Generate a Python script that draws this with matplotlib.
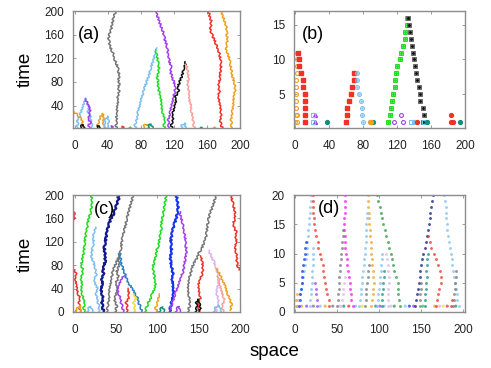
import matplotlib
matplotlib.use("Agg")
import matplotlib.pyplot as plt

plt.rcParams['font.family'] = ['Liberation Sans', 'DejaVu Sans']

# ---------------- colours ----------------
GRAY = '#767676'; PURPLE = '#a23ef0'; SKY = '#7cc0f0'; GREEN = '#1fdc1f'
BLACK = '#111111'; SALMON = '#f8a29a'; RED = '#ee3228'; ORANGE = '#f0a020'
NAVY = '#121a8a'; BLUE = '#1434f0'; STEEL = '#2a82c2'; PLUM = '#dcb4f0'
YELLOW = '#f0dc3c'; TEAL = '#10907c'; MAGENTA = '#ff10ff'; DGREEN = '#2a9a40'

# ---------------- panel (a) ----------------
a_gray_y = [0,7,14,21,28,35,42,49,56,63,70,77,84,91,98,105,112,119,126,133,140,147,154,161,168,175,182,189,196,200]
a_gray_x = [51,50,51,50,52,51,52,53,52,54,53,54,53,54,53,52,50,48,47,45,43,42,41,42,44,45,46,47,49,49]
a_purple_y = [0,8,16,24,32,40,48,56,64,72,80,88,96,104,112,120,128,136,144,152,160,168,176,184,192,200]
a_purple_x = [113,114,113,115,116,117,119,120,121,122,120,118,116,117,115,114,113,112,111,109,108,106,104,102,100,99]
a_sky_y = [0,8,16,24,32,40,48,56,64,72,80,88,96,104,112,120,128,134,137]
a_sky_x = [74,73,75,76,77,79,80,82,83,85,87,89,91,92,94,96,97,99,100]
a_green_y = [0,8,16,24,32,40,48,56,64,72,80,88,96,104,112,120,128,134]
a_green_x = [109,108,109,107,106,105,105,104,102,101,101,100,101,102,101,100,99,98]
a_black_y = [0,8,16,24,32,40,48,56,64,72,80,88,96,104,110,114]
a_black_x = [118,117,119,118,120,121,123,122,126,125,127,129,131,132,134,134]
a_salmon_y = [0,8,16,24,32,40,48,56,64,72,80,88,96,104,110]
a_salmon_x = [145,144,143,142,141,141,139,139,138,137,137,138,137,136,135]
a_red_y = [0,8,16,24,32,40,48,56,64,72,80,88,96,104,112,120,128,136,144,152,160,168,176,184,192,200]
a_red_x = [179,177,176,177,177,176,175,174,175,174,175,176,176,177,177,176,175,173,171,169,166,164,165,165,163,162]
a_orange_y = [0,8,16,24,32,40,48,56,64,72,80,88,96,104,112,120,128,136,144,152,160,168,176,184,192,200]
a_orange_x = [189,190,189,190,191,192,192,193,194,194,193,191,190,189,188,187,185,183,184,185,184,184,183,181,179,177]
a_sky2_y = [0,8,15,22,30,38,46,52,45,38,30,22,12,0]
a_sky2_x = [2,4,3,6,8,10,12,14,15,17,16,19,20,22]
a_purple2_y = [0,6,12,18,25,32,40,46,51]
a_purple2_x = [18,17,19,16,18,19,17,15,13]
a_orange2_y = [30,26,22,18,12,6,0]
a_orange2_x = [-1,2,5,8,10,9,11]
a_orange3_y = [0,8,16,22,26,18,10,4,0]
a_orange3_x = [29,28,30,31,34,35,34,36,38]
a_sky3_y = [0,6,12,18,22,14,6,0]
a_sky3_x = [35,37,36,38,40,41,40,42]
a_black2_y = [0,5,8,4,0]
a_black2_x = [6,8,10,12,11]
a_black3_y = [0,5,3,0]
a_black3_x = [26,28,31,32]
a_orange4_y = [0,6,9,5,0]
a_orange4_x = [83,84,87,89,90]
a_teal_y = [0,6,9,4,0]
a_teal_x = [88,90,92,94,96]
a_sky4_y = [0,7,11,6,0]
a_sky4_x = [129,130,133,134,135]
a_red2_y = [0,4,0]
a_red2_x = [55,58,60]
a_green2_y = [0,4,0]
a_green2_x = [64,66,68]
a_purple3_y = [0,5,0]
a_purple3_x = [43,45,47]
a_teal2_y = [0,4,0]
a_teal2_x = [150,152,154]
a_orange5_y = [0,4,0]
a_orange5_x = [166,168,170]

# ---------------- panel (b) ----------------
b_orange_x = [0,2,1,3,1,1,1,1,1,2,3,3,3]
b_orange_y = [1,1,2,2,3,4,5,6,7,8,9,10,11]
b_red1_x = [12,12,12,12,12,9.5,9.5,6.7,5.2,5.2,4]
b_red1_y = [1,2,3,4,5,6,7,8,9,10,11]
b_red2_x = [60.5,61.7,61.7,63.3,65.7,67.7,69.3,69.3]
b_red2_y = [1,2,3,4,5,6,7,8]
b_sky_x = [80.5,79.3,79.3,77.7,75.3,73.4,73.4,72.6]
b_sky_y = [1,2,3,4,5,6,7,8]
b_green_x = [109.6,111.5,112.7,114.3,115.4,117.4,118.2,119.4,120.6,123.3,125.3,127.3,129.3,130,131.9,131.9]
b_green_y = [1,2,3,4,5,6,7,8,9,10,11,12,13,14,15,16]
b_black_x = [150.6,151.8,150.6,147.5,146.7,145.5,143.9,142.7,140.8,139.6,138.8,137.6,136,135.3,133.8,133]
b_black_y = [1,2,3,4,5,6,7,8,9,10,11,12,13,14,15,16]
b_purple_tri_x = [24,24]
b_purple_tri_y = [1,2]
b_purple_x = [117,125,127]
b_purple_y = [1,2,1]
b_sky2_x = [21,21,137,140,142,152]
b_sky2_y = [1,2,1,1,1,1]
b_teal_x = [38,92,155,194]
b_teal_y = [1,1,1,1]
b_red3_x = [144,183,186,184]
b_red3_y = [1,1,1,2]
b_orange2_x = [88,90]
b_orange2_y = [1,1]

# ---------------- panel (c) ----------------
c_green1_y = [0,8,16,24,32,40,48,56,64,72,80,88,96,104,112,120,128,136,144,152,160,168,176,184,192,200]
c_green1_x = [12,11,12,10,9,8,9,8,9,10,8,9,10,11,12,12,13,14,15,16,17,19,20,21,21,20]
c_sky1_y = [0,8,16,24,32,40,48,56,64,72,80,88,96,104,112,120,128,136,145]
c_sky1_x = [29,30,28,27,26,28,25,24,26,25,24,22,20,21,22,23,22,24,25]
c_navy_y = [0,8,16,24,32,40,48,56,64,72,80,88,96,104,112,120,128,136,144,152,160,168,176,184,192,200]
c_navy_x = [35,34,33,34,33,32,34,33,35,34,36,37,37,36,36,37,38,39,40,42,44,47,49,51,53,54]
c_gray1_y = [0,10,20,30,40,50,60,70,80,90,100,110,120,130,140,150,160,170,180,190,200]
c_gray1_x = [39,40,41,42,42,44,45,46,49,52,55,56,57,58,60,62,63,65,67,69,71]
c_gray2_y = [0,10,20,30,40,50,60,70,80,90,96]
c_gray2_x = [49,51,48,50,52,50,53,51,54,53,55]
c_steel_y = [0,8,16,24,32,40,48,56,64,72,80,88,96,100]
c_steel_x = [81,80,77,76,73,70,66,63,61,59,57,56,55,54]
c_purple1_y = [0,8,16,24,32,40,48,56,63]
c_purple1_x = [59,58,56,55,53,52,54,57,60]
c_green2_y = [0,8,16,24,32,40,48,56,64,72,80,88,96,104,112,120,128,136,144,152,160,168,176,184,192,200]
c_green2_x = [85,87,89,92,94,97,98,97,96,95,95,97,98,99,101,102,103,104,105,105,106,107,108,109,110,111]
c_blue_y = [0,8,16,24,32,40,48,56,64,72,80,88,96,104,112,120,128,136,144,152,160,168,176,184,192,200]
c_blue_x = [115,116,117,118,120,119,119,118,119,118,117,116,116,117,117,116,117,118,119,121,123,124,125,125,124,123]
c_purple2_y = [3,12,20,28,36,44,52,60,68,76,84,92,100,108,116,124,132,140,148,156,164,171]
c_purple2_x = [115,117,119,121,123,125,127,129,131,132,133,134,135,135,134,134,133,132,131,130,128,127]
c_gray3_y = [0,10,20,30,40,50,60,70,80,90,100,110,120,130,140,150,160,170,180,190,200]
c_gray3_x = [137,139,139,138,137,138,139,141,143,147,150,154,157,159,160,161,162,164,167,169,172]
c_red1_y = [72,80,88,96,104,112,120,128,136,144,152,160,168,176,184,192,200]
c_red1_x = [199,197,196,196,195,194,196,195,196,193,192,194,194,193,192,190,190]
c_plum_y = [0,8,16,24,32,40,48,56,64,72,80,88,96,105]
c_plum_x = [171,172,174,173,172,172,174,174,173,172,170,168,165,162]
c_red2_y = [0,8,16,24,32,40,48,56,64,72,80,88,96]
c_red2_x = [151,150,149,152,151,150,150,152,154,155,155,154,153]
c_orange1_y = [3,12,23,35,46,57,74]
c_orange1_x = [188,190,187,184,182,178,172]
c_red3_y = [0,10,20,30,40,50,60]
c_red3_x = [180,178,181,179,177,175,174]
c_red4_y = [0,8,16,24,32,40,48,56,64,72]
c_red4_x = [7,6,5,6,4,3,2,1,2,0]
c_red5_y = [158,165,172]
c_red5_x = [-1,0,-1]
c_red6_y = [0,8,16,24,32,40]
c_red6_x = [63,64,62,65,66,64]
c_yellow_y = [0,8,16,24,30]
c_yellow_x = [72,73,71,74,72]
c_orange2_y = [0,8,16,24,30]
c_orange2_x = [99,98,100,101,103]
c_black_y = [0,8,16,22,14,6,0]
c_black_x = [146,148,147,149,151,152,150]
c_orange3_y = [0,5,12,8,0]
c_orange3_x = [0,3,6,7,8]
c_teal_y = [0,5,9,4,0]
c_teal_x = [102,104,106,108,109]
c_sky2_y = [0,6,12,8,0]
c_sky2_x = [168,170,173,176,178]
c_purple3_y = [0,6,10,4,0]
c_purple3_x = [122,124,126,127,129]
c_sky3_y = [0,6,10,4,0]
c_sky3_x = [15,17,19,21,23]

# ---------------- panel (d) ----------------
d_sky1_t = [1,2,3,4,5,6,7,8,9,10,11,12,13,14,15,16,17,18,19,20]
d_sky1_x = [3,4,6,7,9,10,11,12,13,14,14,15,16,16,17,17,18,18,19,19]
d_red1_t = [1,2,3,4,5,6,7,8,9,10,11,12,13,14,15,16,17,18,19,20]
d_red1_x = [41,40,38,37,36,35,34,33,31,30,28,27,25,24,23,23,22,22,21,21]
d_navy1_t = [1,2,3,4,5,6,7,8,9,10,11,12]
d_navy1_x = [5,6,6,7,8,9,9,10,11,12,12,13]
d_sky2_t = [1,2,3,4,5,6,7,8,9,10,11]
d_sky2_x = [18,18,19,19,20,20,20,21,21,22,22]
d_purple1_t = [1,2,3,4,5]
d_purple1_x = [26,26,25,25,24]
d_orange1_t = [1,2,3]
d_orange1_x = [1,1,2]
d_magenta_t = [1,2,3,4,5,6,7,8,9,10,11,12,13,14,15,16,17,18,19,20]
d_magenta_x = [69,67,67,66,65,64,63,62,62,61,60,59,59,58,58,58,59,59,60,60]
d_gray2_t = [1,2,3,4,5,6,7,8,9,10,11,12,13,14]
d_gray2_x = [50,51,51,52,53,53,54,54,55,55,56,56,57,57]
d_purple2_t = [1,2,3,4,5,6]
d_purple2_x = [55,56,57,57,58,59]
d_orange_t = [1,2,3,4,5,6,7,8,9,10,11,12,13,14,15,16,17,18,19,20]
d_orange_x = [90,92,93,93,94,93,93,92,92,91,90,90,89,89,88,88,88,87,87,87]
d_sky4_t = [1,2,3,4,5,6,7,8,9,10,11,12,13,14,15,16,17]
d_sky4_x = [76,77,78,79,80,80,81,82,82,83,83,84,84,85,85,86,86]
d_gray3_t = [1,2,3,4,5,6,7,8]
d_gray3_x = [83,84,85,85,86,87,87,88]
d_green_t = [1,2,3,4,5,6,7,8,9,10,11,12,13,14,15,16,17,18,19,20]
d_green_x = [125,124,123,122,122,120,118,117,115,114,112,110,108,107,105,104,102,101,99,98]
d_purple3_t = [1,2,3,4,5,6,7,8,9,10]
d_purple3_x = [110,110,111,111,112,112,111,110,109,108]
d_teal1_t = [1,2,3,4,5,6,7]
d_teal1_x = [103,104,104,105,105,106,106]
d_sky5_t = [1,2,3,4,5,6,7,8,9,10]
d_sky5_x = [98,99,99,100,101,101,102,102,103,103]
d_navy2_t = [1,2,3,4,5,6,7,8,9,10,11,12,13,14,15,16,17,18,19,20]
d_navy2_x = [143,144,145,146,147,148,149,150,151,152,154,156,157,158,159,160,161,162,163,164]
d_red3_t = [1,2,3,4,5,6,7,8,9,10,11,12,13]
d_red3_x = [168,169,170,171,173,173,172,170,168,165,162,160,158]
d_teal2_t = [1,2,3,4,5,6,7,8,9,10]
d_teal2_x = [154,155,155,156,156,157,156,157,157,158]
d_gray4_t = [1,2,3,4,5]
d_gray4_x = [148,149,149,150,150]
d_sky6_t = [1,2,3,4,5,6,7,8,9,10,11,12,13,14,15,16,17,18,19,20]
d_sky6_x = [195,193,192,191,190,189,188,187,186,185,184,183,182,181,181,180,179,179,178,177]
d_gray5_t = [1,2,3,4,5,6,7]
d_gray5_x = [188,189,189,190,190,191,191]
d_red4_t = [1,2]
d_red4_x = [185,186]
d_base_x = [8,14,22,30,36,45,53,58,64,72,80,96,101,106,114,118,131,136,141,152,166,172,176,181,191]
d_base_c = [ORANGE,PURPLE,GRAY,SKY,ORANGE,GRAY,PLUM,TEAL,RED,SKY,YELLOW,TEAL,PURPLE,SKY,PLUM,DGREEN,SKY,BLUE,PURPLE,GREEN,ORANGE,PLUM,YELLOW,RED,TEAL]

# ---------------- figure ----------------
fig = plt.figure(figsize=(4.91, 3.68), dpi=100)
pos = {'a': [73/491, 1-128/368, 167/491, 117/368],
       'b': [294/491, 1-128/368, 171/491, 117/368],
       'c': [73/491, 1-312/368, 167/491, 117/368],
       'd': [294/491, 1-312/368, 171/491, 117/368]}
axs = {k: fig.add_axes(v) for k, v in pos.items()}

def style(ax):
    for s in ax.spines.values():
        s.set_color('#8c8c8c'); s.set_linewidth(1.0)
    ax.tick_params(direction='in', length=2.5, width=0.6, color='#8c8c8c',
                   labelsize=8.5, labelcolor='#222222', top=True, right=True)
    ax.tick_params(axis='x', pad=8.5)
    ax.tick_params(axis='y', pad=6.5)

SKETCH = (0.9, 4.0, 2.0)

# (a)
ax = axs['a']
lines_a = [(a_gray_x, a_gray_y, GRAY), (a_purple_x, a_purple_y, PURPLE), (a_sky_x, a_sky_y, SKY),
           (a_green_x, a_green_y, GREEN), (a_black_x, a_black_y, BLACK), (a_salmon_x, a_salmon_y, SALMON),
           (a_red_x, a_red_y, RED), (a_orange_x, a_orange_y, ORANGE), (a_sky2_x, a_sky2_y, SKY),
           (a_purple2_x, a_purple2_y, PURPLE), (a_orange2_x, a_orange2_y, ORANGE),
           (a_orange3_x, a_orange3_y, ORANGE), (a_sky3_x, a_sky3_y, SKY), (a_black2_x, a_black2_y, BLACK),
           (a_black3_x, a_black3_y, BLACK), (a_orange4_x, a_orange4_y, ORANGE), (a_teal_x, a_teal_y, TEAL),
           (a_sky4_x, a_sky4_y, SKY), (a_red2_x, a_red2_y, RED), (a_green2_x, a_green2_y, GREEN),
           (a_purple3_x, a_purple3_y, PURPLE), (a_teal2_x, a_teal2_y, TEAL), (a_orange5_x, a_orange5_y, ORANGE)]
for x, y, c in lines_a:
    ln, = ax.plot(x, y, color=c, lw=1.1)
    ln.set_sketch_params(*SKETCH)
ax.set_xlim(-2, 196); ax.set_ylim(2, 200)
ax.set_xticks([0, 40, 80, 120, 160, 200]); ax.set_yticks([40, 80, 120, 160, 200])
style(ax)
ax.text(0.096, 0.80, '(a)', transform=ax.transAxes, fontsize=13, ha='center', va='center')

# (b)
ax = axs['b']
ms_b = 2.8
ax.plot(b_orange_x, b_orange_y, 'o', ms=ms_b, mfc='none', mec=ORANGE, mew=0.8)
ax.plot(b_red1_x, b_red1_y, 's', ms=ms_b, color=RED)
ax.plot(b_red2_x, b_red2_y, 's', ms=ms_b, color=RED)
ax.plot(b_sky_x, b_sky_y, 'o', ms=ms_b, mfc='none', mec=SKY, mew=0.8)
ax.plot(b_sky_x, b_sky_y, '.', ms=1.2, color=SKY)
ax.plot(b_green_x, b_green_y, 's', ms=ms_b, mfc='none', mec=GREEN, mew=0.7)
ax.plot(b_green_x, b_green_y, 's', ms=1.1, color=GREEN)
ax.plot(b_black_x, b_black_y, 's', ms=ms_b, mfc='none', mec='#666666', mew=0.7)
ax.plot(b_black_x, b_black_y, 's', ms=1.1, color=BLACK)
ax.plot(b_purple_tri_x, b_purple_tri_y, '^', ms=ms_b, color=PURPLE)
ax.plot(b_purple_x, b_purple_y, 'o', ms=ms_b, mfc='none', mec=PURPLE, mew=0.8)
ax.plot(b_sky2_x, b_sky2_y, 's', ms=ms_b, mfc='none', mec=SKY, mew=0.8)
ax.plot(b_teal_x, b_teal_y, 'o', ms=ms_b, color=TEAL)
ax.plot(b_red3_x, b_red3_y, 'o', ms=ms_b, color=RED)
ax.plot(b_orange2_x, b_orange2_y, 'o', ms=ms_b, color=ORANGE)
ax.set_xlim(-1, 197); ax.set_ylim(0.1, 17)
ax.set_xticks([0, 40, 80, 120, 160, 200]); ax.set_yticks([5, 10, 15])
style(ax)
ax.text(0.111, 0.80, '(b)', transform=ax.transAxes, fontsize=13, ha='center', va='center')

# (c)
ax = axs['c']
lines_c = [(c_green1_x, c_green1_y, GREEN, 1.1), (c_sky1_x, c_sky1_y, SKY, 1.1),
           (c_navy_x, c_navy_y, NAVY, 1.6), (c_gray1_x, c_gray1_y, GRAY, 1.1),
           (c_gray2_x, c_gray2_y, GRAY, 1.1), (c_steel_x, c_steel_y, STEEL, 1.1),
           (c_purple1_x, c_purple1_y, PURPLE, 1.1), (c_green2_x, c_green2_y, GREEN, 1.1),
           (c_blue_x, c_blue_y, BLUE, 1.5), (c_purple2_x, c_purple2_y, PURPLE, 1.1),
           (c_gray3_x, c_gray3_y, GRAY, 1.1), (c_red1_x, c_red1_y, RED, 1.1),
           (c_plum_x, c_plum_y, PLUM, 1.1), (c_red2_x, c_red2_y, RED, 1.1),
           (c_orange1_x, c_orange1_y, ORANGE, 1.1), (c_red3_x, c_red3_y, SALMON, 1.1),
           (c_red4_x, c_red4_y, RED, 1.1), (c_red5_x, c_red5_y, RED, 1.1),
           (c_red6_x, c_red6_y, RED, 1.1), (c_yellow_x, c_yellow_y, YELLOW, 1.1),
           (c_orange2_x, c_orange2_y, ORANGE, 1.1), (c_black_x, c_black_y, BLACK, 1.1),
           (c_orange3_x, c_orange3_y, ORANGE, 1.1), (c_teal_x, c_teal_y, TEAL, 1.1),
           (c_sky2_x, c_sky2_y, SKY, 1.1), (c_purple3_x, c_purple3_y, PURPLE, 1.1),
           (c_sky3_x, c_sky3_y, SKY, 1.1)]
for x, y, c, lw in lines_c:
    ln, = ax.plot(x, y, color=c, lw=lw)
    ln.set_sketch_params(*SKETCH)
ax.set_xlim(-2, 200); ax.set_ylim(0, 200)
ax.set_xticks([0, 50, 100, 150, 200]); ax.set_yticks([0, 40, 80, 120, 160, 200])
style(ax)
ax.text(0.19, 0.876, '(c)', transform=ax.transAxes, fontsize=13, ha='center', va='center')

# (d)
ax = axs['d']
dots_d = [(d_sky1_x, d_sky1_t, SKY), (d_red1_x, d_red1_t, RED), (d_navy1_x, d_navy1_t, BLUE),
          (d_sky2_x, d_sky2_t, SKY), (d_purple1_x, d_purple1_t, PURPLE), (d_orange1_x, d_orange1_t, ORANGE),
          (d_magenta_x, d_magenta_t, MAGENTA), (d_gray2_x, d_gray2_t, GRAY), (d_purple2_x, d_purple2_t, PLUM),
          (d_orange_x, d_orange_t, ORANGE), (d_sky4_x, d_sky4_t, SKY), (d_gray3_x, d_gray3_t, GRAY),
          (d_green_x, d_green_t, DGREEN), (d_purple3_x, d_purple3_t, PLUM), (d_teal1_x, d_teal1_t, TEAL),
          (d_sky5_x, d_sky5_t, SKY), (d_navy2_x, d_navy2_t, NAVY), (d_red3_x, d_red3_t, RED),
          (d_teal2_x, d_teal2_t, TEAL), (d_gray4_x, d_gray4_t, GRAY), (d_sky6_x, d_sky6_t, SKY),
          (d_gray5_x, d_gray5_t, GRAY), (d_red4_x, d_red4_t, RED)]
for x, t, c in dots_d:
    ax.plot(x, t, 'o', ms=2.1, color=c, mew=0, alpha=0.75)
ax.scatter(d_base_x, [1] * len(d_base_x), s=5, c=d_base_c, linewidths=0, alpha=0.75)
ax.set_xlim(-1, 202); ax.set_ylim(0, 20)
ax.set_xticks([0, 50, 100, 150, 200]); ax.set_yticks([0, 5, 10, 15, 20])
style(ax)
ax.text(0.205, 0.885, '(d)', transform=ax.transAxes, fontsize=13, ha='center', va='center')

fig.text(25/491, 1-69/368, 'time', rotation=90, fontsize=13.5, ha='center', va='center')
fig.text(25/491, 1-254/368, 'time', rotation=90, fontsize=13.5, ha='center', va='center')
fig.text(274.5/491, 1-356.5/368, 'space', fontsize=13.5, ha='center', va='baseline')

fig.savefig('out.png', dpi=100)
